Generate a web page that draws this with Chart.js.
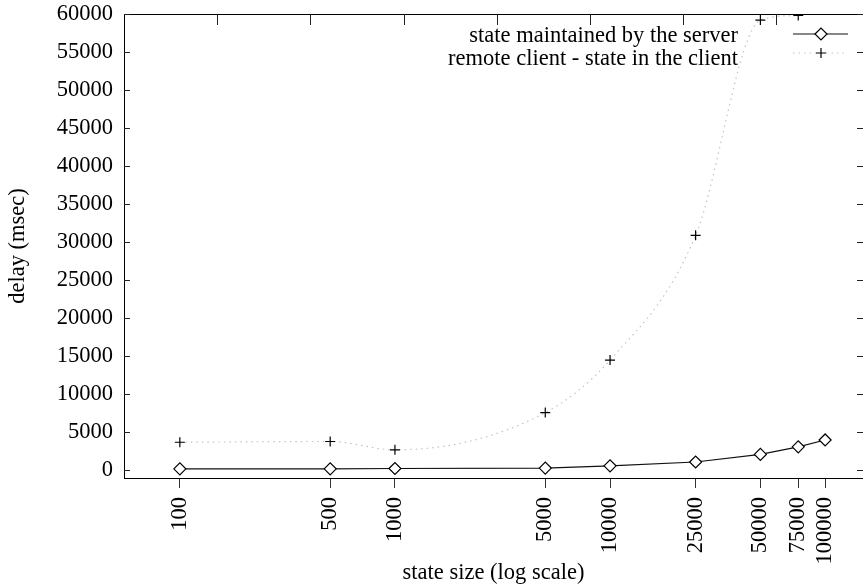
<!DOCTYPE html>
<html>
<head>
<meta charset="utf-8">
<script src="https://cdn.jsdelivr.net/npm/chart.js@4.4.1/dist/chart.umd.min.js"></script>
<style>
html, body { margin: 0; padding: 0; background: #fff; }
#wrap { width: 863px; height: 585px; }
</style>
</head>
<body>
<div id="wrap"><canvas id="chart"></canvas></div>
<script>
// values
const stateSizes = [100, 500, 1000, 5000, 10000, 25000, 50000, 75000, 100000];
const serverDelay = [200, 200, 250, 300, 600, 1100, 2100, 3100, 4000];
const clientDelay = [3700, 3800, 2700, 7600, 14500, 30900, 59200, 59800];
const seriesNames = ['state maintained by the server', 'remote client - state in the client'];
const yTickValues = [0, 5000, 10000, 15000, 20000, 25000, 30000, 35000, 40000, 45000, 50000, 55000, 60000];
const xTickValues = stateSizes;
const topTickValues = [1, 2, 3, 4, 5, 6, 7];

const serif = '"Liberation Serif", "DejaVu Serif", serif';
const font = { family: serif, size: 22.5 };

function pairs(xs, ys) {
    return ys.map((y, i) => ({ x: xs[i], y: y }));
}

// gnuplot style key: text on the left, line sample on the right
const keyBox = {
    id: 'keyBox',
    afterDraw(chart) {
        const { ctx } = chart;
        ctx.save();
        chart.data.datasets.forEach((ds, i) => {
            const textY = 42 + i * 23;
            const sampleY = 34 + i * 19;
            ctx.font = font.size + 'px ' + serif;
            ctx.fillStyle = '#000';
            ctx.textAlign = 'right';
            ctx.textBaseline = 'alphabetic';
            ctx.fillText(ds.label, 738, textY);

            ctx.beginPath();
            ctx.strokeStyle = ds.borderColor;
            ctx.lineWidth = ds.borderWidth;
            ctx.setLineDash(ds.borderDash || []);
            ctx.moveTo(793, sampleY);
            ctx.lineTo(848, sampleY);
            ctx.stroke();
            ctx.setLineDash([]);

            ctx.strokeStyle = ds.pointBorderColor;
            ctx.fillStyle = ds.pointBackgroundColor;
            ctx.lineWidth = ds.pointBorderWidth;
            Chart.helpers.drawPoint(ctx, {
                pointStyle: ds.pointStyle,
                radius: ds.pointRadius,
                rotation: 0,
                borderWidth: ds.pointBorderWidth
            }, 821, sampleY);
        });
        ctx.restore();
    }
};

// tick marks pointing into the plot (left, right, top)
const innerTicks = {
    id: 'innerTicks',
    afterDraw(chart) {
        const { ctx, chartArea: a, scales } = chart;
        ctx.save();
        ctx.strokeStyle = '#222';
        ctx.lineWidth = 1;
        ctx.beginPath();
        scales.y.ticks.forEach(t => {
            const py = Math.round(scales.y.getPixelForValue(t.value)) + 0.5;
            ctx.moveTo(a.left, py);
            ctx.lineTo(a.left + 6, py);
            ctx.moveTo(a.right - 6, py);
            ctx.lineTo(a.right, py);
        });
        scales.x2.ticks.forEach(t => {
            const px = Math.round(scales.x2.getPixelForValue(t.value)) + 0.5;
            ctx.moveTo(px, a.top);
            ctx.lineTo(px, a.top + 11);
        });
        ctx.stroke();
        ctx.restore();
    }
};

new Chart(document.getElementById('chart'), {
    type: 'line',
    data: {
        datasets: [
            {
                label: seriesNames[0],
                data: pairs(stateSizes, serverDelay),
                borderColor: '#111',
                borderWidth: 1.2,
                pointStyle: 'rectRot',
                pointRadius: 6,
                pointBorderColor: '#000',
                pointBackgroundColor: '#fff',
                pointBorderWidth: 1.2,
                tension: 0
            },
            {
                label: seriesNames[1],
                data: pairs(stateSizes, clientDelay),
                borderColor: '#c4c4c4',
                borderWidth: 1.2,
                borderDash: [1.5, 4],
                cubicInterpolationMode: 'monotone',
                pointStyle: 'cross',
                pointRadius: 5,
                pointBorderColor: '#000',
                pointBackgroundColor: '#000',
                pointBorderWidth: 1.2
            }
        ]
    },
    options: {
        responsive: true,
        maintainAspectRatio: false,
        animation: false,
        layout: { padding: 0, autoPadding: false },
        plugins: {
            legend: { display: false },
            tooltip: { enabled: false }
        },
        scales: {
            x: {
                type: 'logarithmic',
                position: 'bottom',
                min: 55,
                max: 150000,
                afterBuildTicks: s => { s.ticks = xTickValues.map(v => ({ value: v })); },
                afterFit: s => {
                    s.height = 107;
                    s.paddingLeft = 0;
                    s.paddingRight = 0;
                },
                border: { display: true, color: '#000', width: 1 },
                grid: { drawOnChartArea: false, drawTicks: true, tickLength: 10, color: '#333' },
                ticks: {
                    autoSkip: false,
                    maxRotation: 90,
                    minRotation: 90,
                    padding: 9,
                    color: '#000',
                    font: font,
                    callback: v => String(v)
                },
                title: {
                    display: true,
                    text: 'state size (log scale)',
                    color: '#000',
                    font: font,
                    padding: { top: 0, bottom: -2 }
                }
            },
            x2: {
                type: 'linear',
                position: 'top',
                display: true,
                min: 0,
                max: 739 / 93.2,
                afterBuildTicks: s => { s.ticks = topTickValues.map(v => ({ value: v })); },
                afterFit: s => { s.height = 14; },
                border: { display: true, color: '#000', width: 1 },
                grid: { display: false },
                ticks: { display: false }
            },
            y: {
                min: -1000,
                max: 60000,
                afterBuildTicks: s => { s.ticks = yTickValues.map(v => ({ value: v })); },
                afterFit: s => {
                    s.width = 124;
                    s.paddingTop = 0;
                    s.paddingBottom = 0;
                },
                border: { display: true, color: '#000', width: 1 },
                grid: { drawOnChartArea: false, drawTicks: false },
                ticks: { padding: 11, color: '#000', font: font, callback: v => String(v) },
                title: {
                    display: true,
                    text: 'delay (msec)',
                    color: '#000',
                    font: font,
                    padding: { top: 5, bottom: 0 }
                }
            }
        }
    },
    plugins: [innerTicks, keyBox]
});
</script>
</body>
</html>
